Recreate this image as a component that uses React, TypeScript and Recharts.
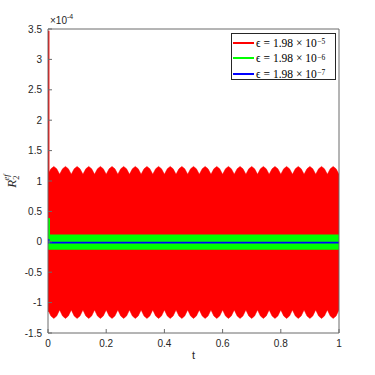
import React from "react";
import { ComposedChart, Area, Line, XAxis, YAxis, Legend } from "recharts";

// ---- data (values in units of 1e-4) ----
const xTicks = [0, 0.2, 0.4, 0.6, 0.8, 1];
const yTicks = [-1.5, -1, -0.5, 0, 0.5, 1, 1.5, 2, 2.5, 3, 3.5];

// times of the cusps between the scallops of the red envelope
const redCuspTimes = [
  0, 0.04, 0.08, 0.12, 0.16, 0.2, 0.24, 0.28, 0.32, 0.36, 0.4, 0.44, 0.48,
  0.52, 0.56, 0.6, 0.64, 0.68, 0.72, 0.76, 0.8, 0.84, 0.88, 0.92, 0.96, 1,
];
// envelope profile across one scallop (cusp, quarter, middle, three-quarter)
const redTopProfile = [1.11, 1.2, 1.24, 1.2];
const redBottomProfile = [-1.12, -1.22, -1.26, -1.22];
const redSpikeTop = 3.47;
const redSpikeBottom = -1.15;

const greenBand = [-0.13, 0.12];
const greenSpikeTop = 0.39;
const blueBand = [-0.03, 0.0];
const blueSpikeTop = 0.045;

const legendLabels = ["-5", "-6", "-7"];
const colors = ["#ff0000", "#00ff00", "#0000ff"];

// ---- tables built from the arrays above ----
const redRows: { t: number; red: [number, number] }[] = [];
for (let i = 0; i < redCuspTimes.length - 1; i++) {
  const t0 = redCuspTimes[i];
  const t1 = redCuspTimes[i + 1];
  for (let j = 0; j < redTopProfile.length; j++) {
    redRows.push({
      t: t0 + ((t1 - t0) * j) / redTopProfile.length,
      red: [redBottomProfile[j], redTopProfile[j]],
    });
  }
}
redRows.push({
  t: redCuspTimes[redCuspTimes.length - 1],
  red: [redBottomProfile[0], redTopProfile[0]],
});

const greenRows = [
  { t: 0.004, green: greenBand as [number, number] },
  { t: 1, green: greenBand as [number, number] },
];
const blueRows = [
  { t: 0.002, blue: blueBand as [number, number] },
  { t: 1, blue: blueBand as [number, number] },
];
const redSpike = [
  { t: 0.0015, v: redSpikeTop },
  { t: 0.0015, v: redSpikeBottom },
];
const greenSpike = [
  { t: 0.0035, v: greenSpikeTop },
  { t: 0.0035, v: greenBand[0] },
];
const blueSpike = [
  { t: 0.0015, v: blueSpikeTop },
  { t: 0.0015, v: blueBand[0] },
];

const AX = "#6b6b6b";
const TXT = "#262626";
const SANS = "'Liberation Sans', Arial, sans-serif";
const SERIF = "'Liberation Serif', 'DejaVu Serif', serif";

const renderLegend = () => (
  <div
    style={{
      width: 105,
      height: 47,
      border: `1px solid ${TXT}`,
      background: "#fff",
      boxSizing: "border-box",
      paddingTop: 1,
    }}
  >
    {legendLabels.map((ex, i) => (
      <div
        key={i}
        style={{
          display: "flex",
          alignItems: "center",
          height: 15.5,
          fontFamily: SERIF,
          fontSize: 11.5,
          color: "#000",
          whiteSpace: "nowrap",
        }}
      >
        <div
          style={{
            width: 21,
            height: 2,
            background: colors[i],
            marginLeft: 1,
            marginRight: 2,
          }}
        />
        <span>ϵ&nbsp;=&nbsp;1.98&nbsp;×&nbsp;10</span>
        <sup style={{ fontSize: 7.5, position: "relative", top: -1, marginLeft: 0.5 }}>
          {ex.replace("-", "−")}
        </sup>
      </div>
    ))}
  </div>
);

export default function App() {
  return (
    <div style={{ position: "absolute", left: 0, top: 0, width: 375, height: 375, background: "#fff" }}>
      <ComposedChart
        width={375}
        height={375}
        margin={{ top: 19, right: 26, bottom: 12, left: 8 }}
      >
        <XAxis
          xAxisId="b"
          type="number"
          dataKey="t"
          domain={[0, 1]}
          ticks={xTicks}
          allowDataOverflow
          orientation="bottom"
          height={30}
          tickSize={-4}
          tickMargin={11}
          stroke={AX}
          tick={{ fontSize: 10, fill: TXT, fontFamily: SANS }}
          label={{
            value: "t",
            position: "insideBottom",
            offset: 4,
            style: { fontSize: 11, fill: TXT, fontFamily: SANS },
          }}
        />
        <XAxis
          xAxisId="top"
          type="number"
          dataKey="t"
          domain={[0, 1]}
          ticks={xTicks}
          allowDataOverflow
          orientation="top"
          height={10}
          tickSize={-4}
          tick={false}
          stroke={AX}
        />
        <YAxis
          yAxisId="l"
          type="number"
          domain={[-1.5, 3.5]}
          ticks={yTicks}
          allowDataOverflow
          width={40}
          tickSize={-4}
          tickMargin={10}
          stroke={AX}
          tickFormatter={(v: number) => String(v)}
          tick={{ fontSize: 10, fill: TXT, fontFamily: SANS }}
          label={{
            content: () => (
              <text
                x={16}
                y={181}
                transform="rotate(-90, 16, 181)"
                textAnchor="middle"
                fontFamily={SERIF}
                fontStyle="italic"
                fontSize={13}
                fill={TXT}
              >
                R
                <tspan dy={3} fontSize={8.5} fontStyle="normal">2</tspan>
                <tspan dx={-5} dy={-10} fontSize={8.5}>ef</tspan>
              </text>
            ),
          }}
        />
        <YAxis
          yAxisId="r"
          orientation="right"
          type="number"
          domain={[-1.5, 3.5]}
          ticks={yTicks}
          allowDataOverflow
          width={10}
          tickSize={-4}
          tick={false}
          stroke={AX}
        />
        <Area
          xAxisId="b"
          yAxisId="l"
          data={redRows}
          dataKey="red"
          type="linear"
          fill={colors[0]}
          fillOpacity={1}
          stroke={colors[0]}
          strokeWidth={0.5}
          isAnimationActive={false}
          activeDot={false}
        />
        <Line
          xAxisId="b"
          yAxisId="l"
          data={redSpike}
          dataKey="v"
          stroke={colors[0]}
          strokeWidth={2}
          dot={false}
          isAnimationActive={false}
        />
        <Area
          xAxisId="b"
          yAxisId="l"
          data={greenRows}
          dataKey="green"
          type="linear"
          fill={colors[1]}
          fillOpacity={1}
          stroke="none"
          isAnimationActive={false}
          activeDot={false}
        />
        <Line
          xAxisId="b"
          yAxisId="l"
          data={greenSpike}
          dataKey="v"
          stroke={colors[1]}
          strokeWidth={2}
          dot={false}
          isAnimationActive={false}
        />
        <Area
          xAxisId="b"
          yAxisId="l"
          data={blueRows}
          dataKey="blue"
          type="linear"
          fill={colors[2]}
          fillOpacity={1}
          stroke="none"
          isAnimationActive={false}
          activeDot={false}
        />
        <Line
          xAxisId="b"
          yAxisId="l"
          data={blueSpike}
          dataKey="v"
          stroke={colors[2]}
          strokeWidth={2}
          dot={false}
          isAnimationActive={false}
        />
        <Legend
          layout="horizontal"
          verticalAlign="middle"
          content={renderLegend}
          wrapperStyle={{ left: 231, top: 33, width: 105, height: 47 }}
        />
      </ComposedChart>
      <div
        style={{
          position: "absolute",
          left: 50,
          top: 14,
          fontFamily: SANS,
          fontSize: 10,
          color: TXT,
          whiteSpace: "nowrap",
        }}
      >
        ×10<sup style={{ fontSize: 7, position: "relative", top: -1 }}>-4</sup>
      </div>
    </div>
  );
}
